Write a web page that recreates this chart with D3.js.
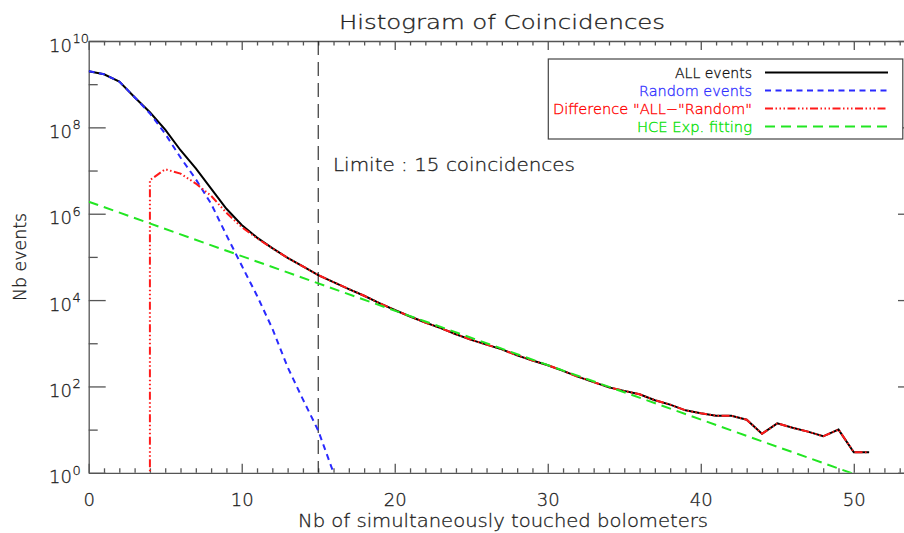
<!DOCTYPE html>
<html>
<head>
<meta charset="utf-8">
<script src="https://cdn.jsdelivr.net/npm/d3@7"></script>
<style>
  html, body { margin: 0; padding: 0; background: #fff; }
  svg { display: block; }
  text { font-family: "DejaVu Sans", "Liberation Sans", sans-serif; font-weight: 200; fill: #222; stroke: #222; stroke-width: 0.3; }
  .axis path, .axis line { stroke: #555; stroke-width: 1.3; }
</style>
</head>
<body>
<svg id="chart" width="904" height="533"></svg>
<script>
// Number of simultaneously touched bolometers (histogram bins)
const bins = [0,1,2,3,4,5,6,7,8,9,10,11,12,13,14,15,16,17,18,19,20,21,22,23,24,25,
  26,27,28,29,30,31,32,33,34,35,36,37,38,39,40,41,42,43,44,45,46,47,48,49,50,51];

// ALL events, counts per bin
const allEvents = [2.0e9,1.7e9,1.15e9,5.0e8,2.24e8,8.9e7,2.95e7,1.12e7,3.8e6,1.3e6,
  5.5e5,2.8e5,1.6e5,9.5e4,6.0e4,3.8e4,2.6e4,1.8e4,1.26e4,8500,5900,4170,3020,2240,1620,
  1200,930,720,525,400,310,230,166,126,95,79,66,48,38,28,24,21,21,17,8,14,11,9,7,10,3,3];

// Random (accidental) coincidences, bins 0..16
const randomBins = [0,1,2,3,4,5,6,7,8,9,10,11,12,13,14,15,16];
const randomEvents = [2.0e9,1.7e9,1.15e9,5.0e8,2.1e8,7.1e7,2.0e7,6.3e6,1.7e6,3.2e5,
  6.3e4,1.26e4,2200,280,50,9.5,1.0];

// Difference ALL - Random, positive from bin 4 onwards
const diffBins = [4,5,6,7,8,9,10,11,12,13,14,15,16,17,18,19,20,21,22,23,24,25,26,27,
  28,29,30,31,32,33,34,35,36,37,38,39,40,41,42,43,44,45,46,47,48,49,50,51];
const diffEvents = [6.0e6,1.07e7,8.5e6,5.0e6,2.6e6,1.05e6,4.9e5,2.7e5,1.58e5,9.47e4,
  6.0e4,3.8e4,2.6e4,1.8e4,1.26e4,8500,5900,4170,3020,2240,1620,1200,930,720,525,400,310,
  230,166,126,95,79,66,48,38,28,24,21,21,17,8,14,11,9,7,10,3,3];

// Exponential fit of the high-coincidence tail (a straight line in log scale)
const fitBins = [0, 50];
const fitEvents = [1.9e6, 0.94];

// Cut on the number of coincidences
const limitBin = 15;

const xTicksMajor = [0,10,20,30,40,50];
const yTicksMajor = [1,1e2,1e4,1e6,1e8,1e10];
const yTickExp = ["0","2","4","6","8","10"];
const yTicksMinor = [10,1e3,1e5,1e7,1e9];

const legendLabels = ["ALL events", "Random events", "Difference \"ALL\u2212\"Random\"", "HCE Exp. fitting"];
const legendColors = ["#000000", "#2a2aff", "#ff1a1a", "#22e622"];
const legendTextColors = ["#111111", "#3030ff", "#ff0000", "#00e000"];

(function draw() {
  const svg = d3.select("#chart");
  const pLeft = 88.7, pRight = 915, pTop = 41, pBottom = 472.8;

  const x = d3.scaleLinear().domain([0, 54]).range([pLeft, pRight]);
  const y = d3.scaleLog().domain([1, 1e10]).range([pBottom, pTop]);

  svg.append("clipPath").attr("id", "plotClip")
    .append("rect").attr("x", pLeft).attr("y", pTop)
    .attr("width", pRight - pLeft).attr("height", pBottom - pTop);

  // ---- axes ----
  const minorX = d3.range(0, 55).filter(v => v % 10 !== 0);

  svg.append("g").attr("class", "axis").attr("transform", `translate(0,${pBottom})`)
    .call(d3.axisBottom(x).tickValues(xTicksMajor).tickSize(-9).tickSizeOuter(0).tickPadding(20).tickFormat(d3.format("d")))
    .call(g => g.selectAll("text").attr("font-size", 18));
  svg.append("g").attr("class", "axis").attr("transform", `translate(0,${pBottom})`)
    .call(d3.axisBottom(x).tickValues(minorX).tickSize(-4.5).tickSizeOuter(0).tickFormat(""))
    .call(g => g.select(".domain").remove());

  svg.append("g").attr("class", "axis").attr("transform", `translate(0,${pTop})`)
    .call(d3.axisTop(x).tickValues(xTicksMajor).tickSize(-9).tickSizeOuter(0).tickFormat(""));
  svg.append("g").attr("class", "axis").attr("transform", `translate(0,${pTop})`)
    .call(d3.axisTop(x).tickValues(minorX).tickSize(-4.5).tickSizeOuter(0).tickFormat(""))
    .call(g => g.select(".domain").remove());

  svg.append("g").attr("class", "axis").attr("transform", `translate(${pLeft},0)`)
    .call(d3.axisLeft(y).tickValues(yTicksMajor).tickSize(-17).tickSizeOuter(0).tickFormat(""));
  svg.append("g").attr("class", "axis").attr("transform", `translate(${pLeft},0)`)
    .call(d3.axisLeft(y).tickValues(yTicksMinor).tickSize(-9).tickSizeOuter(0).tickFormat(""))
    .call(g => g.select(".domain").remove());

  svg.append("g").attr("class", "axis").attr("transform", `translate(${pRight},0)`)
    .call(d3.axisRight(y).tickValues(yTicksMajor).tickSize(-17).tickSizeOuter(0).tickFormat(""));
  svg.append("g").attr("class", "axis").attr("transform", `translate(${pRight},0)`)
    .call(d3.axisRight(y).tickValues(yTicksMinor).tickSize(-9).tickSizeOuter(0).tickFormat(""))
    .call(g => g.select(".domain").remove());

  // d3 axes set their own font; restore the page font on the tick labels
  svg.selectAll(".axis").attr("font-family", null).attr("font-size", null);

  // y tick labels: 10 with superscript exponent
  const yLab = svg.append("g");
  yTicksMajor.forEach((v, i) => {
    const yy = y(v) + 4;
    yLab.append("text").attr("x", 72).attr("y", yy + 6.5).attr("text-anchor", "end")
      .attr("font-size", 18).text("10");
    yLab.append("text").attr("x", 72.5).attr("y", yy - 2).attr("text-anchor", "start")
      .attr("font-size", 13).text(yTickExp[i]);
  });

  // ---- series ----
  const plot = svg.append("g").attr("clip-path", "url(#plotClip)");
  const line = d3.line().x(d => x(d[0])).y(d => y(Math.max(d[1], 1e-3)));

  // cut on the number of coincidences
  plot.append("line")
    .attr("x1", x(limitBin)).attr("x2", x(limitBin))
    .attr("y1", pTop).attr("y2", pBottom)
    .attr("stroke", "#222").attr("stroke-width", 1.1).attr("stroke-dasharray", "14,7");

  plot.append("path").datum(bins.map((b, i) => [b, allEvents[i]]))
    .attr("d", line).attr("fill", "none").attr("stroke", legendColors[0]).attr("stroke-width", 2);

  plot.append("path").datum(randomBins.map((b, i) => [b, randomEvents[i]]))
    .attr("d", line).attr("fill", "none").attr("stroke", legendColors[1]).attr("stroke-width", 2)
    .attr("stroke-dasharray", "6,4.5");

  // difference: drops to the axis below its first positive bin
  const diffPts = [[diffBins[0], 1e-3]].concat(diffBins.map((b, i) => [b, diffEvents[i]]));
  plot.append("path").datum(diffPts)
    .attr("d", line).attr("fill", "none").attr("stroke", legendColors[2]).attr("stroke-width", 2)
    .attr("stroke-dasharray", "8,2.5,1.5,2.5,1.5,2.5,1.5,2.5");

  plot.append("path").datum(fitBins.map((b, i) => [b, fitEvents[i]]))
    .attr("d", line).attr("fill", "none").attr("stroke", legendColors[3]).attr("stroke-width", 2)
    .attr("stroke-dasharray", "10,6");

  // ---- labels ----
  svg.append("text").attr("x", 333).attr("y", 171).attr("font-size", 18)
    .attr("textLength", 242).attr("lengthAdjust", "spacingAndGlyphs")
    .text("Limite : 15 coincidences");

  svg.append("text").attr("x", 502).attr("y", 28.5).attr("text-anchor", "middle").attr("font-size", 19)
    .attr("textLength", 326).attr("lengthAdjust", "spacingAndGlyphs")
    .text("Histogram of Coincidences");

  svg.append("text").attr("x", 503).attr("y", 527).attr("text-anchor", "middle").attr("font-size", 18)
    .attr("textLength", 410).attr("lengthAdjust", "spacingAndGlyphs")
    .text("Nb of simultaneously touched bolometers");

  svg.append("text").attr("transform", "translate(26,257) rotate(-90)")
    .attr("text-anchor", "middle").attr("font-size", 18)
    .attr("textLength", 88).attr("lengthAdjust", "spacingAndGlyphs")
    .text("Nb events");

  // ---- legend ----
  const lg = svg.append("g");
  lg.append("rect").attr("x", 548.3).attr("y", 59).attr("width", 354.5).attr("height", 80)
    .attr("fill", "#fff").attr("stroke", "#444").attr("stroke-width", 1.2);
  const legendDash = [null, "6,4.5", "8,2.5,1.5,2.5,1.5,2.5,1.5,2.5", "10,6"];
  const legendWidths = [77, 113, 199, 115];
  legendLabels.forEach((lab, i) => {
    const ry = 72.5 + i * 18;
    lg.append("text").attr("x", 752).attr("y", ry + 5).attr("text-anchor", "end")
      .attr("font-size", 14).style("fill", legendTextColors[i]).style("stroke", legendTextColors[i])
      .attr("textLength", legendWidths[i]).attr("lengthAdjust", "spacingAndGlyphs")
      .text(lab);
    lg.append("line").attr("x1", 765).attr("x2", 888).attr("y1", ry).attr("y2", ry)
      .attr("stroke", legendColors[i]).attr("stroke-width", 2)
      .attr("stroke-dasharray", legendDash[i]);
  });
})();
</script>
</body>
</html>
